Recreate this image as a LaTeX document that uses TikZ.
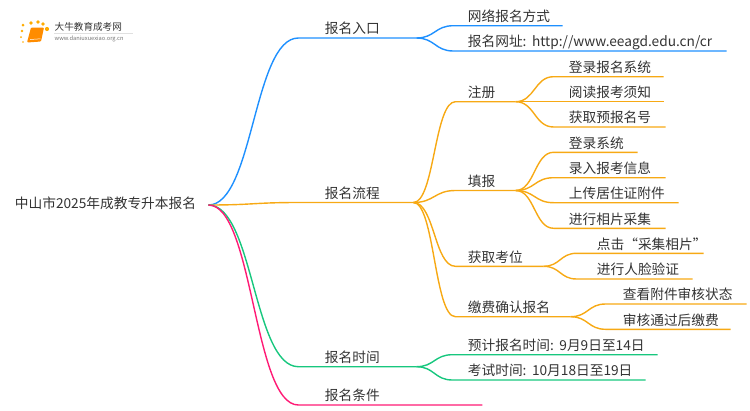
\documentclass[tikz,border=0pt]{standalone}
\usepackage{fontspec}
\setmainfont{Noto Sans CJK SC}
\usetikzlibrary{calc}

\definecolor{bluebr}{HTML}{1E90FF}
\definecolor{orangebr}{HTML}{F7A914}
\definecolor{greenbr}{HTML}{17C77E}
\definecolor{pinkbr}{HTML}{FF1A75}
\definecolor{textcol}{HTML}{333333}

\tikzset{
	topic/.style={anchor=south west,xshift=-0.8pt,inner xsep=0pt,inner ysep=0pt,text height=11pt,text depth=3.5pt,align=left,text=textcol,font=\fontsize{13.7}{15}\selectfont,text width=#1*1pt},
	branch/.style={to path={let \p1=(\tikztostart),\p2=(\tikztotarget.south west) in .. controls ({\x1+#1*0.5pt},\y1) and ({\x1+#1*0.5pt},\y2) .. ({\x1+#1*1pt},\y2) -- (\tikztotarget.south west) -- (\tikztotarget.south east)}},
	dot/.style={circle,fill=#1,inner sep=0pt,minimum size=3pt}
}

\begin{document}
\begin{tikzpicture}[x=1pt,y=-1pt,line width=1.4pt]
	\useasboundingbox (0,0) rectangle (750,410);

	% logo
	\foreach \px/\py/\ps in {23/25/3,31/23/3.6,38/22/3.6,43/24/3.8,47/29/4.2,22/31/2.6,21/37/2,23/42/1.6}
		\node[dot=orange!65!yellow,minimum size=\ps pt] at (\px,\py) {};
	\fill[orange!90!yellow,rounded corners=1pt] (31,27.5) -- (44,27.5) -- (41,41.5) -- (27,42.5) -- cycle;
	\draw[white,line width=0.5pt] (30,39.5) -- (40.5,38.8);
	\draw[black!12,line width=0.4pt] (54,33.5) -- (133,33.5);
	\node[anchor=west,inner sep=0pt,text=textcol,font=\fontsize{9.6}{10}\selectfont] (logoname) at (54,27) {大牛教育成考网};
	\node[anchor=west,inner sep=0pt,text=black!55,font=\fontsize{5.7}{6}\selectfont] (logourl) at (54,38.5) {www.daniuxuexiao.org.cn};

	% root
	\node[topic=192.8,anchor=west,text height=10pt,text depth=3pt] (R) at (15,205) {中山市2025年成教专升本报名};

	% first level
	\node[topic=90.8] (A) at (325,38) {报名入口};
	\node[topic=87.8] (B) at (325,202.5) {报名流程};
	\node[topic=90.8] (C) at (325,366.7) {报名时间};
	\node[topic=156.8] (D) at (325,405) {报名条件};

	% entry
	\node[topic=94] (A1) at (468,25.7) {网络报名方式};
	\node[topic=258] (A2) at (468,51) {报名网址:\hspace{5.5pt}http://www.eeagd.edu.cn/cr};

	% process
	\node[topic=47] (B1) at (468,101.7) {注册};
	\node[topic=47] (B2) at (468,190.5) {填报};
	\node[topic=75] (B3) at (468,266.3) {获取考位};
	\node[topic=102] (B4) at (468,316.7) {缴费确认报名};

	\node[topic=94] (B11) at (569,76.7) {登录报名系统};
	\node[topic=94] (B12) at (569,101.7) {阅读报考须知};
	\node[topic=96] (B13) at (569,127) {获取预报名号};

	\node[topic=68] (B21) at (569,152.3) {登录系统};
	\node[topic=96] (B22) at (569,177.7) {录入报考信息};
	\node[topic=109] (B23) at (569,202.7) {上传居住证附件};
	\node[topic=96] (B24) at (569,228.3) {进行相片采集};

	\node[topic=106] (B31) at (597,253.3) {点击“采集相片”};
	\node[topic=95] (B32) at (597,279) {进行人脸验证};

	\node[topic=123] (B41) at (623,304) {查看附件审核状态};
	\node[topic=107] (B42) at (623,329.3) {审核通过后缴费};

	% time
	\node[topic=189] (C1) at (468,354.7) {预计报名时间:\hspace{5.5pt}9月9日至14日};
	\node[topic=177] (C2) at (468,380) {考试时间:\hspace{5.5pt}10月18日至19日};

	\path[draw=bluebr]
	(R.east) edge[branch=90] (A)
	(A.south east) edge[branch=37] (A1)
	(A.south east) edge[branch=37] (A2);

	\path[draw=orangebr]
	(R.east) edge[branch=90] (B)
	(B.south east) edge[branch=42] (B1)
	(B.south east) edge[branch=42] (B2)
	(B.south east) edge[branch=42] (B3)
	(B.south east) edge[branch=42] (B4)
	(B1.south east) edge[branch=38] (B11)
	(B1.south east) edge[branch=38] (B12)
	(B1.south east) edge[branch=38] (B13)
	(B2.south east) edge[branch=38] (B21)
	(B2.south east) edge[branch=38] (B22)
	(B2.south east) edge[branch=38] (B23)
	(B2.south east) edge[branch=38] (B24)
	(B3.south east) edge[branch=33] (B31)
	(B3.south east) edge[branch=33] (B32)
	(B4.south east) edge[branch=35] (B41)
	(B4.south east) edge[branch=35] (B42);

	\path[draw=greenbr]
	(R.east) edge[branch=90] (C)
	(C.south east) edge[branch=36] (C1)
	(C.south east) edge[branch=36] (C2);

	\path[draw=pinkbr]
	(R.east) edge[branch=90] (D);
\end{tikzpicture}
\end{document}
